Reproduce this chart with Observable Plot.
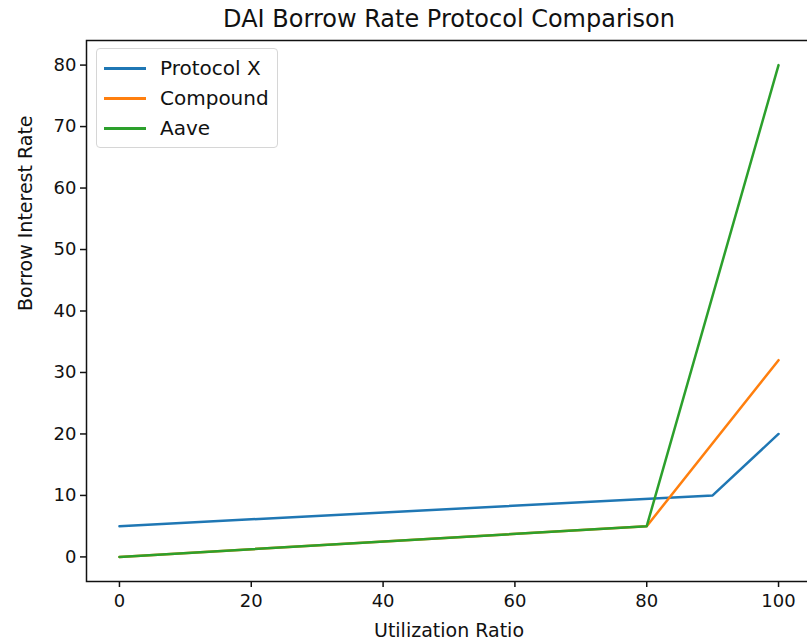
<!DOCTYPE html>
<html>
<head>
<meta charset="utf-8">
<script src="https://cdn.jsdelivr.net/npm/d3@7"></script>
<script src="https://cdn.jsdelivr.net/npm/@observablehq/plot@0.6"></script>
<style>
  html, body { margin: 0; padding: 0; background: #fff; overflow: hidden; }
  #wrap { position: relative; width: 807px; height: 642px; overflow: hidden; font-family: "DejaVu Sans", sans-serif; color: #111; }
  #title { position: absolute; left: 86px; top: 0; width: 726px; height: 36px; line-height: 38px; text-align: center; font-size: 24px; }
  #chart { position: absolute; left: 0; top: 36px; width: 811px; }
  #chart svg { max-width: none !important; width: 811px; }
  #legend { position: absolute; left: 96px; top: 48px; width: 182px; height: 100px; box-sizing: border-box; border: 1px solid #d6d6d6; border-radius: 4px; background: rgba(255,255,255,0.85); padding-top: 4px; }
  .row { position: relative; height: 30px; font-size: 20px; line-height: 30px; }
  .sw { position: absolute; left: 7px; top: 14px; width: 42px; height: 2.5px; }
  .lab { position: absolute; left: 63px; top: 0; }
</style>
</head>
<body>
<div id="wrap">
  <div id="title"></div>
  <div id="chart"></div>
  <div id="legend"></div>
</div>
<script>
const title = "DAI Borrow Rate Protocol Comparison";
const xLabel = "Utilization Ratio";
const yLabel = "Borrow Interest Rate";
const seriesNames = ["Protocol X", "Compound", "Aave"];
const seriesColors = ["#1f77b4", "#ff7f0e", "#2ca02c"];

const protocolXUtil = [0, 90, 100];
const protocolXRate = [5, 10, 20];
const compoundUtil = [0, 80, 100];
const compoundRate = [0, 5, 32];
const aaveUtil = [0, 80, 100];
const aaveRate = [0, 5, 80];

const xTicks = [0, 20, 40, 60, 80, 100];
const yTicks = [0, 10, 20, 30, 40, 50, 60, 70, 80];

const data = [];
[[protocolXUtil, protocolXRate], [compoundUtil, compoundRate], [aaveUtil, aaveRate]].forEach(([xs, ys], i) => {
  xs.forEach((x, j) => data.push({series: seriesNames[i], util: x, rate: ys[j]}));
});

document.getElementById("title").textContent = title;

const chart = Plot.plot({
  width: 811,
  height: 606,
  marginLeft: 86,
  marginRight: 0,
  marginTop: 4,
  marginBottom: 61,
  style: {fontFamily: "DejaVu Sans, sans-serif", fontSize: "18px", color: "#111", background: "white", overflow: "visible", maxWidth: "none"},
  x: {domain: [-5, 105]},
  y: {domain: [-4, 84]},
  color: {domain: seriesNames, range: seriesColors},
  marks: [
    Plot.line(data, {x: "util", y: "rate", z: "series", stroke: "series", strokeWidth: 2.5}),
    Plot.frame({stroke: "#111", strokeWidth: 1.5}),
    Plot.axisX({ticks: xTicks, tickSize: 6, tickPadding: 7, label: null, strokeWidth: 1.5, fontSize: 18}),
    Plot.axisY({ticks: yTicks, tickSize: 6, tickPadding: 4, label: null, strokeWidth: 1.5, fontSize: 18}),
    Plot.text([xLabel], {text: d => d, frameAnchor: "bottom", dy: 49, fontSize: 19, lineAnchor: "middle"}),
    Plot.text([yLabel], {text: d => d, frameAnchor: "left", dx: -61, rotate: -90, fontSize: 19, lineAnchor: "middle"})
  ]
});
document.getElementById("chart").appendChild(chart);

const legend = document.getElementById("legend");
seriesNames.forEach((name, i) => {
  const row = document.createElement("div");
  row.className = "row";
  const sw = document.createElement("div");
  sw.className = "sw";
  sw.style.background = seriesColors[i];
  const lab = document.createElement("div");
  lab.className = "lab";
  lab.textContent = name;
  row.appendChild(sw);
  row.appendChild(lab);
  legend.appendChild(row);
});
</script>
</body>
</html>
